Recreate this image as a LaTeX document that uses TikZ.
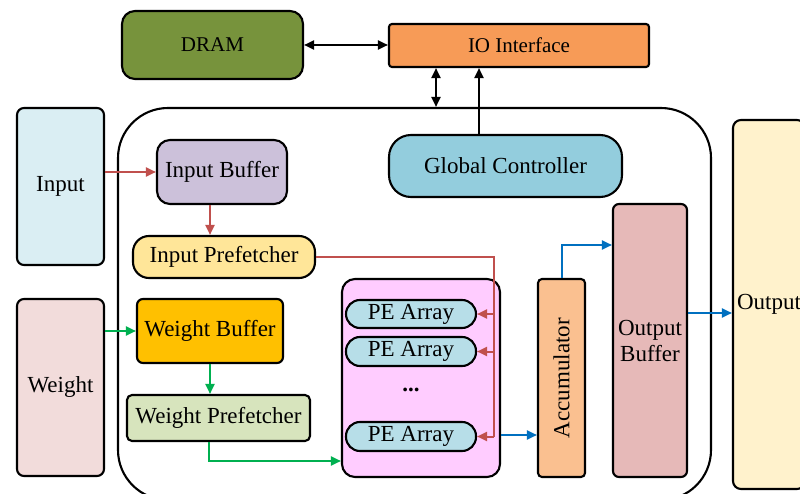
\documentclass[tikz,border=0pt]{standalone}
\usepackage{fontspec}
\setmainfont{Liberation Serif}
\usetikzlibrary{arrows.meta}

\definecolor{dramc}{HTML}{77933C}
\definecolor{ioc}{HTML}{F79B57}
\definecolor{inputc}{HTML}{DAEEF3}
\definecolor{weightc}{HTML}{F2DCDB}
\definecolor{ibufc}{HTML}{CCC1DA}
\definecolor{iprec}{HTML}{FFE699}
\definecolor{wbufc}{HTML}{FFC000}
\definecolor{wprec}{HTML}{D7E4BD}
\definecolor{gcc}{HTML}{93CDDD}
\definecolor{pecontc}{HTML}{FFCCFF}
\definecolor{pec}{HTML}{B7DEE8}
\definecolor{accc}{HTML}{FAC090}
\definecolor{obufc}{HTML}{E6B9B8}
\definecolor{outc}{HTML}{FFF2CC}
\definecolor{redline}{HTML}{C0504D}
\definecolor{greenline}{HTML}{00B050}
\definecolor{blueline}{HTML}{0070C0}

\begin{document}
\begin{tikzpicture}[x=1pt,y=-1pt,
  box/.style={draw=black, line width=2.1pt, inner sep=0pt, align=center,
    font=\fontsize{23}{26}\selectfont},
  sz/.style 2 args={minimum width=#1pt, minimum height=#2pt},
  conn/.style={line width=2pt, -{Triangle[length=10pt,width=9pt]}},
  biconn/.style={line width=2pt, {Triangle[length=10pt,width=9pt]}-{Triangle[length=10pt,width=9pt]}}]

\clip (0,0) rectangle (800,494);
\useasboundingbox (0,0) rectangle (800,494);

% chip enclosure
\node[box, sz={593}{392}, rounded corners=50pt] (chip) at (414.5,304) {};

% off-chip blocks
\node[box, sz={181}{68}, rounded corners=13pt, fill=dramc,
  font=\fontsize{21}{24}\selectfont] (dram) at (212.5,45) {DRAM};
\node[box, sz={260}{43}, rounded corners=3pt, fill=ioc,
  font=\fontsize{21}{24}\selectfont] (io) at (519,45.5) {IO Interface};
\node[box, sz={87}{157}, rounded corners=7pt, fill=inputc] (input) at (60.5,186.5) {Input};
\node[box, sz={87}{177}, rounded corners=7pt, fill=weightc] (weight) at (60.5,387.5) {Weight};
\node[box, sz={72}{369}, rounded corners=8pt, fill=outc] (out) at (769,304.5) {Output};

% on-chip blocks
\node[box, sz={130}{64}, rounded corners=13pt, fill=ibufc] (ibuf) at (222,172) {Input Buffer};
\node[box, sz={182}{42}, rounded corners=16pt, fill=iprec] (ipre) at (224,257) {Input Prefetcher};
\node[box, sz={146}{64}, rounded corners=6pt, fill=wbufc] (wbuf) at (210,331) {Weight Buffer};
\node[box, sz={183}{46}, rounded corners=5pt, fill=wprec] (wpre) at (218.5,418) {Weight Prefetcher};
\node[box, sz={233}{62}, rounded corners=22pt, fill=gcc] (gc) at (505.5,166) {Global Controller};

% PE cluster
\node[box, sz={158}{198}, rounded corners=13pt, fill=pecontc] (pecont) at (421,378) {};
\node[box, sz={130}{28}, rounded corners=14pt, fill=pec] (pe1) at (411,314) {PE Array};
\node[box, sz={130}{29}, rounded corners=14pt, fill=pec] (pe2) at (411,351.5) {PE Array};
\node[box, sz={130}{29}, rounded corners=14pt, fill=pec] (pe3) at (411,436.5) {PE Array};
\node[font=\fontsize{23}{26}\selectfont\bfseries, inner sep=0pt] (dots) at (411,390) {...};

\node[box, sz={198}{47}, rounded corners=4pt, fill=accc, rotate=90] (acc) at (561.5,378) {Accumulator};
\node[box, sz={74}{273}, rounded corners=6pt, fill=obufc] (obuf) at (650,340.5) {Output\\Buffer};

% memory / control links
\draw[biconn] (dram.east) -- (dram.east -| io.west);
\draw[biconn] ([xshift=-83pt]io.south) -- ([xshift=-83pt]io.south |- chip.north);
\draw[conn] ([xshift=-26.5pt]gc.north) -- ([xshift=-26.5pt]gc.north |- io.south);

% input path
\draw[conn, redline] (ibuf.west -| input.east) -- (ibuf.west);
\draw[conn, redline] ([xshift=-12pt]ibuf.south) -- ([xshift=-12pt]ibuf.south |- ipre.north);
\draw[line width=2pt, redline] (ipre.east) -- ++(178,0) coordinate (rbus) -- (rbus |- pe3.east);
\draw[conn, redline] (rbus |- pe1.east) -- (pe1.east);
\draw[conn, redline] (rbus |- pe2.east) -- (pe2.east);
\draw[conn, redline] (rbus |- pe3.east) -- (pe3.east);

% weight path
\draw[conn, greenline] (wbuf.west -| weight.east) -- (wbuf.west);
\draw[conn, greenline] (wbuf.south) -- (wbuf.south |- wpre.north);
\draw[conn, greenline] ([xshift=-10pt]wpre.south) |- ([yshift=-83pt]pecont.west);

% output path
\draw[conn, blueline] ([yshift=-57pt]pecont.east) -- ([yshift=-57pt]pecont.east -| acc.north);
\draw[conn, blueline] (acc.east) |- ([yshift=95.5pt]obuf.west);
\draw[conn, blueline] ([yshift=27.5pt]obuf.east) -- ([yshift=27.5pt]obuf.east -| out.west);

\end{tikzpicture}
\end{document}
